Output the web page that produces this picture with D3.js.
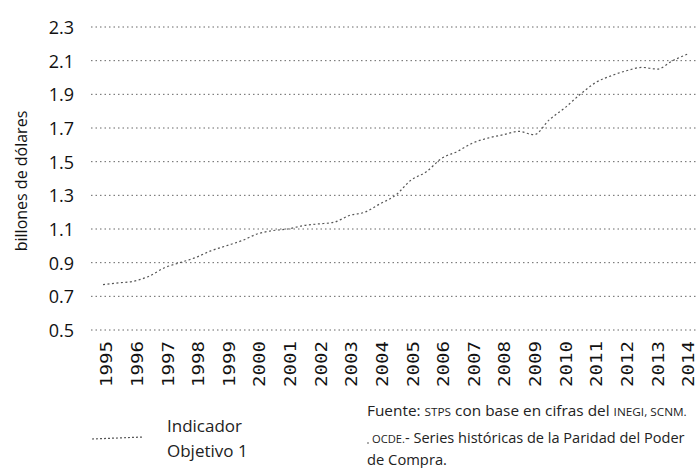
<!DOCTYPE html>
<html><head><meta charset="utf-8">
<script src="https://cdn.jsdelivr.net/npm/d3@7"></script>
<style>body{margin:0;background:#fff}svg{display:block}</style>
</head><body>
<svg id="c" width="697" height="468"></svg>
<script>
const years = [1995,1996,1997,1998,1999,2000,2001,2002,2003,2004,2005,2006,2007,2008,2009,2010,2011,2012,2013,2014];
const yTicks = [0.5,0.7,0.9,1.1,1.3,1.5,1.7,1.9,2.1,2.3];
const periods = [1995.0,1995.5,1996.0,1996.5,1997.0,1997.5,1998.0,1998.5,1999.0,1999.5,2000.0,2000.5,2001.0,2001.5,2002.0,2002.5,2003.0,2003.5,2004.0,2004.5,2005.0,2005.5,2006.0,2006.5,2007.0,2007.5,2008.0,2008.5,2009.0,2009.5,2010.0,2010.5,2011.0,2011.5,2012.0,2012.5,2013.0,2013.5,2014.0];
const values = [0.77,0.78,0.79,0.82,0.87,0.90,0.93,0.97,1.00,1.03,1.07,1.09,1.10,1.12,1.13,1.14,1.18,1.20,1.25,1.30,1.39,1.44,1.52,1.56,1.61,1.64,1.66,1.68,1.66,1.75,1.82,1.90,1.97,2.01,2.04,2.06,2.05,2.10,2.14];
const yTitle = "billones de dólares";
const legendLabel = ["Indicador","Objetivo 1"];

const svg = d3.select("#c");
const x = d3.scaleLinear().domain([1995,2014]).range([103,688]);
const y = d3.scaleLinear().domain([0.5,2.3]).range([330,27]);

// gridlines
svg.append("g").selectAll("line").data(yTicks).join("line")
  .attr("x1",91).attr("x2",697)
  .attr("y1",d=>y(d)).attr("y2",d=>y(d))
  .attr("stroke","#666").attr("stroke-width",1)
  .attr("stroke-dasharray","1.5,3");

// y axis labels
const yAxis = d3.axisLeft(y).tickValues(yTicks).tickFormat(d3.format(".1f")).tickSize(0).tickPadding(0);
const gy = svg.append("g").attr("transform","translate(74,0)").call(yAxis);
gy.select(".domain").remove();
gy.selectAll("text").attr("font-family","'Open Sans'").attr("font-size",18).attr("fill","#111").attr("dy","0.36em");

// x axis labels
const xLab = d3.scaleLinear().domain([1995,2014]).range([106,688]);
const xAxis = d3.axisBottom(xLab).tickValues(years).tickFormat(d3.format("d")).tickSize(0).tickPadding(0);
const gx = svg.append("g").attr("transform","translate(0,340)").call(xAxis);
gx.select(".domain").remove();
gx.selectAll("text").attr("font-family","'DejaVu Sans Mono'").attr("font-size",16).attr("fill","#111")
  .attr("text-anchor","end").attr("transform","rotate(-90)").attr("x",-1).attr("y",0).attr("dy","0.36em")
  .attr("textLength",46).attr("lengthAdjust","spacingAndGlyphs");

// y title
svg.append("text").attr("transform","translate(27,181) rotate(-90)")
  .attr("text-anchor","middle").attr("font-family","'Open Sans'").attr("font-size",16).attr("fill","#111").text(yTitle);

// line
const line = d3.line().x((d,i)=>x(periods[i])).y(d=>y(d)).curve(d3.curveMonotoneX);
svg.append("path").datum(values).attr("d",line).attr("fill","none")
  .attr("stroke","#555").attr("stroke-width",1.2).attr("stroke-dasharray","2,2.5");

// legend
svg.append("line").attr("x1",92).attr("x2",143).attr("y1",439).attr("y2",437)
  .attr("stroke","#555").attr("stroke-width",1.2).attr("stroke-dasharray","2,2");
svg.append("g").selectAll("text").data(legendLabel).join("text")
  .attr("x",167).attr("y",(d,i)=>432+i*25)
  .attr("font-family","'Open Sans'").attr("font-size",17).attr("fill","#222").text(d=>d);

// source (condensed look via horizontal scaling)
const srcLines = [
  {x:367, y:416, w:320, parts:[["Fuente: ",15],["STPS",11.5],[" con base en cifras del ",15],["INEGI, SCNM.",11.5]]},
  {x:372, y:443, w:313, parts:[["OCDE.",11.5],["- Series históricas de la Paridad del Poder",15]]},
  {x:367, y:465, w:80, parts:[["de Compra.",15]]}
];
srcLines.forEach(L=>{
  const t = svg.append("text").attr("font-family","'Open Sans'").attr("fill","#222");
  L.parts.forEach(p=>t.append("tspan").attr("font-size",p[1]).text(p[0]));
  const w = t.node().getComputedTextLength();
  t.attr("transform",`translate(${L.x},${L.y}) scale(${L.w/w},1)`);
});
svg.append("circle").attr("cx",368).attr("cy",443).attr("r",0.8).attr("fill","#444");
</script>
</body></html>
